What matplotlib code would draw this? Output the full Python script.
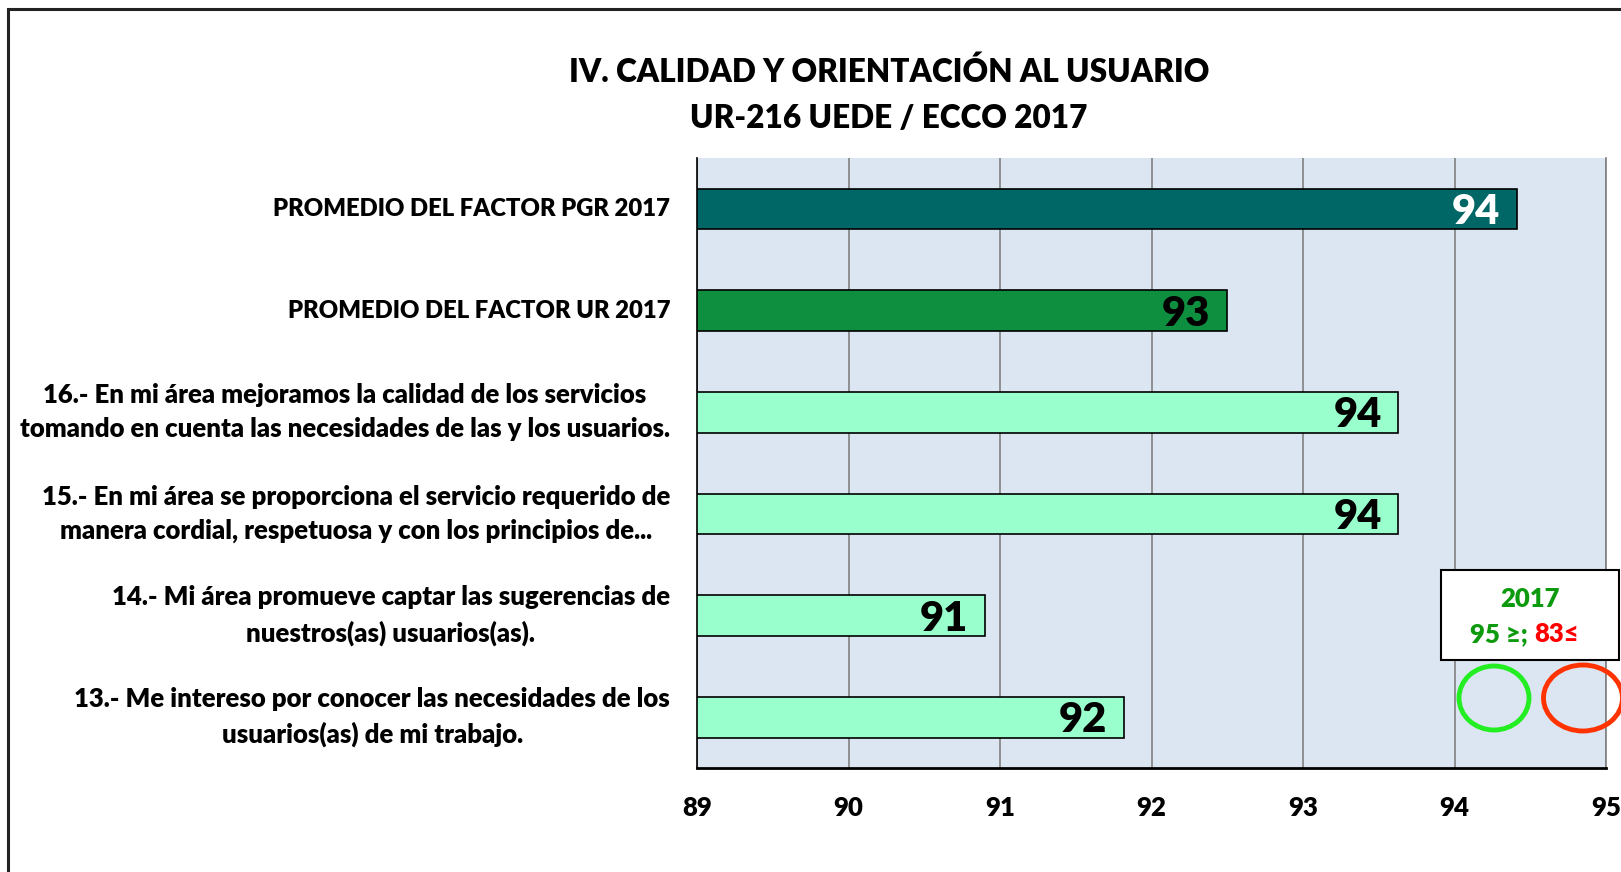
import matplotlib
matplotlib.use("Agg")
import matplotlib.pyplot as plt
from matplotlib.patches import Ellipse, Rectangle

plt.rcParams['font.family'] = ['Lato', 'DejaVu Sans']

categories = [
    "PROMEDIO DEL FACTOR PGR 2017",
    "PROMEDIO DEL FACTOR UR 2017",
    "16.- En mi área mejoramos la calidad de los servicios\ntomando en cuenta las necesidades de las y los usuarios.",
    "15.- En mi área se proporciona el servicio requerido de\nmanera cordial, respetuosa y con los principios de...",
    "14.- Mi área promueve captar las sugerencias de\nnuestros(as) usuarios(as).",
    "13.- Me intereso por conocer las necesidades de los\nusuarios(as) de mi trabajo.",
]
values = [94.41, 92.5, 93.63, 93.63, 90.9, 91.82]
labels = ["94", "93", "94", "94", "91", "92"]
bar_colors = ["#006666", "#0E8F40", "#99FFCC", "#99FFCC", "#99FFCC", "#99FFCC"]
label_colors = ["white", "black", "black", "black", "black", "black"]
xticks = [89, 90, 91, 92, 93, 94, 95]

W, H = 1621, 872
FW = "heavy"
fig = plt.figure(figsize=(W / 100, H / 100), dpi=100)
ax = fig.add_axes([697 / W, (H - 768) / H, (1606 - 697) / W, (768 - 158) / H])
ax.set_facecolor("#DCE6F2")

n = len(categories)
ypos = list(range(n))
ax.barh(ypos, [v - 89 for v in values], left=89, height=0.4, color=bar_colors,
        edgecolor="black", linewidth=1.2, zorder=3)
for y, v, lab, c in zip(ypos, values, labels, label_colors):
    ax.text(v - 0.11, y + 0.03, lab, ha="right", va="center", fontsize=30,
            fontweight=FW, color=c, zorder=4)

ax.set_xlim(89, 95)
ax.set_ylim(n - 0.5, -0.5)
ax.set_xticks(xticks)
ax.set_xticklabels([str(t) for t in xticks], fontsize=18.5, fontweight=FW)
ax.tick_params(axis="x", length=0, pad=20)
ax.set_yticks([])
ax.grid(axis="x", color="#808080", linewidth=1.2, zorder=1)
ax.spines["top"].set_visible(False)
ax.spines["right"].set_color("#808080")
ax.spines["right"].set_linewidth(1.2)
ax.spines["left"].set_linewidth(1.2)
ax.spines["bottom"].set_linewidth(2)

for y, cat in zip(ypos, categories):
    fs = 17.2 if "\n" not in cat else 18.5
    ax.annotate(cat, xy=(0, y), xycoords=("axes fraction", "data"),
                xytext=(-27, 0), textcoords="offset pixels",
                ha="right", va="center", multialignment="center",
                fontsize=fs, fontweight=FW, linespacing=1.5)

fig.text(889 / W, 1 - 72 / H, "IV. CALIDAD Y ORIENTACIÓN AL USUARIO", ha="center",
         va="center", fontsize=22.7, fontweight=FW)
fig.text(889 / W, 1 - 118 / H, "UR-216 UEDE / ECCO 2017", ha="center",
         va="center", fontsize=22.7, fontweight=FW)

# outer frame
fig.add_artist(Rectangle((7.5 / W, -0.1), 1.2, 1 - 9.5 / H + 0.1, transform=fig.transFigure,
                         fill=False, edgecolor="#222222", linewidth=2.2))

# legend box
fig.add_artist(Rectangle((1441 / W, 1 - 660 / H), (1619 - 1441) / W, 90 / H,
                         transform=fig.transFigure, facecolor="white",
                         edgecolor="black", linewidth=1.5, zorder=5))
fig.text(1530 / W, 1 - 599 / H, "2017", ha="center", va="center", fontsize=18.5,
         fontweight=FW, color="#0E9A0E", zorder=6)
fig.text(1534 / W, 1 - 634 / H, "95 ≥; ", ha="right", va="center", fontsize=18.5,
         fontweight=FW, color="#0E9A0E", zorder=6)
fig.text(1534 / W, 1 - 634 / H, "83≤", ha="left", va="center", fontsize=18.5,
         fontweight=FW, color="#FF0000", zorder=6)

fig.add_artist(Ellipse((1494 / W, 1 - 698 / H), 70 / W, 64 / H, transform=fig.transFigure,
                       fill=False, edgecolor="#22EE22", linewidth=3.5, zorder=6))
fig.add_artist(Ellipse((1583 / W, 1 - 698 / H), 79 / W, 66 / H, transform=fig.transFigure,
                       fill=False, edgecolor="#FF3300", linewidth=3.5, zorder=6))

fig.savefig("out.png", dpi=100, facecolor="white")
